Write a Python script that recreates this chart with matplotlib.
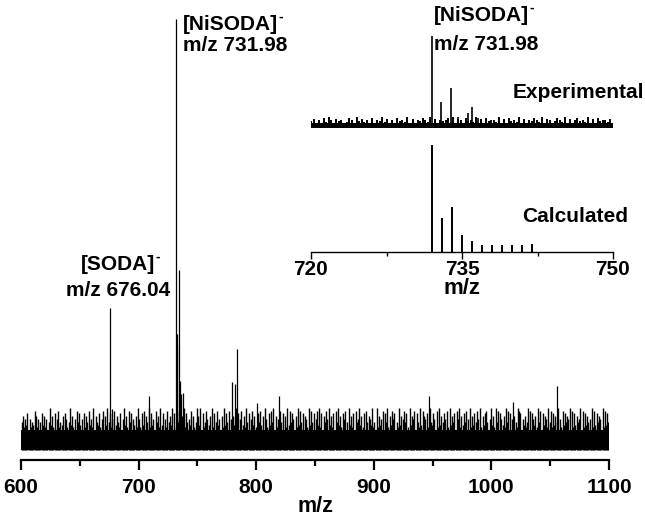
import numpy as np
import matplotlib
matplotlib.use('Agg')
import matplotlib.pyplot as plt

plt.rcParams['font.family'] = ['Liberation Sans', 'DejaVu Sans']
plt.rcParams['font.weight'] = 'bold'

# full scan, 600-1100: noise level, one digit per m/z unit
noise_digits = (
    "46253715243862514736251493627158243617524936251847"
    "35172648352916437258163947251836427159362847153629"
    "52738164927351846293715284639172548361927453816249"
    "63917248536192748351629374815263947158362947158362"
    "27483619527384916253847162938475162938471652938417"
    "58392716485936271849362758149362718459362718465392"
    "41926358174926385714293658471293658174293865172943"
    "75182936475182936471859263748159263748519263784159"
    "36294817536294871536429871536249817536294817365294"
    "82736491528374659182736459182736451928374651928374"
)
noise_h = np.array([3.5 + 0.65 * int(d) for d in noise_digits])
noise_mz = np.linspace(600.5, 1099.5, len(noise_h))

# picked peaks in the full scan (m/z, relative intensity)
peak_mz = [676.04, 677.0, 708.6, 731.98, 732.5, 733.0, 733.98, 735.0, 736.4,
           737.6, 779.2, 782.0, 784.0, 800.4, 819.6, 947.0, 1018.6, 1056.0]
peak_int = [32.7, 9.0, 12.2, 100.0, 26.5, 24.0, 41.5, 15.6, 12.6,
            12.8, 15.4, 14.9, 23.0, 10.6, 12.2, 12.1, 10.7, 14.5]

# zoomed region: measured isotope pattern
exp_digits = (
    "47261839527461385294736182549372618453927164853927"
    "16458392761845392718465392718453927164853927614853"
    "92716845392718465372"
)
exp_noise = np.array([3.5 + 0.7 * int(d) for d in exp_digits])
exp_noise_mz = np.linspace(720.0, 750.0, len(exp_noise))
exp_mz = [731.98, 732.95, 733.95, 734.6, 735.6, 735.96, 736.6]
exp_int = [86.0, 24.6, 37.7, 10.0, 14.0, 19.9, 9.0]
exp_offset = 116

# calculated isotope pattern
calc_mz = [732, 733, 734, 735, 736, 737, 738, 739, 740, 741, 742]
calc_int = [100, 32, 42, 16, 10, 7, 7, 7, 7, 7, 7.5]


def ion_label(axis, x, y, name, mz_text, ha='left', gap=6.8):
    t = axis.text(x, y, name, fontsize=15, fontweight='bold', ha=ha, va='baseline')
    axis.annotate('-', xy=(1, 0.9), xycoords=t, xytext=(0.5, 0), textcoords='offset points',
                  fontsize=10, fontweight='bold', ha='left', va='center')
    axis.text(x, y - gap, mz_text, fontsize=15, fontweight='bold', ha=ha, va='baseline')


fig = plt.figure(figsize=(6.45, 5.19), dpi=100)

ax = fig.add_axes([21 / 645, 1 - 460 / 519, 588 / 645, 450 / 519])
ax.fill_between([600.3, 1099.7], -0.5, 4.2, color='black', lw=0)
ax.vlines(noise_mz, -0.5, noise_h, color='black', lw=1.0)
ax.vlines(peak_mz, 0, peak_int, color='black', lw=0.9)
ax.set_xlim(600, 1100)
ax.set_ylim(-2.8, 102.1)
for s in ['top', 'right', 'left']:
    ax.spines[s].set_visible(False)
ax.spines['bottom'].set_linewidth(1.6)
ax.set_yticks([])
ax.set_xticks(np.arange(600, 1101, 100))
ax.set_xticks(np.arange(650, 1100, 100), minor=True)
ax.tick_params(axis='x', which='major', length=7, width=1.6, labelsize=15, pad=6)
ax.tick_params(axis='x', which='minor', length=4.5, width=1.6)
ax.set_xlabel('m/z', fontsize=15.5, fontweight='bold', labelpad=-0.5)

ion_label(ax, 737.8, 97.5, '[NiSODA]', 'm/z 731.98', gap=4.9)
ion_label(ax, 682.5, 41.5, '[SODA]', 'm/z 676.04', ha='center', gap=6.0)

ins = fig.add_axes([311 / 645, 1 - 252 / 519, 302 / 645, 232 / 519])
ins.fill_between([720.1, 749.9], exp_offset - 0.5, exp_offset + 4.2, color='black', lw=0)
ins.vlines(exp_noise_mz, exp_offset - 0.5, exp_offset + exp_noise, color='black', lw=1.4)
ins.vlines(exp_mz, exp_offset, exp_offset + np.array(exp_int), color='black', lw=1.2)
ins.vlines(calc_mz, 0, calc_int, color='black', lw=1.4)
ins.set_xlim(720, 750)
ins.set_ylim(0, 216.8)
ins.patch.set_visible(False)
for s in ['top', 'right', 'left']:
    ins.spines[s].set_visible(False)
ins.spines['bottom'].set_linewidth(1.0)
ins.set_yticks([])
ins.set_xticks([720, 735, 750])
ins.set_xticks([727.5, 742.5], minor=True)
ins.tick_params(axis='x', which='major', length=5, width=1.0, labelsize=15, pad=1)
ins.tick_params(axis='x', which='minor', length=3, width=1.0)
ins.set_xlabel('m/z', fontsize=16, fontweight='bold', labelpad=-1)

ion_label(ins, 732.2, 216, '[NiSODA]', 'm/z 731.98', gap=27)
ins.text(740.0, 144, 'Experimental', fontsize=15, fontweight='bold', ha='left', va='baseline')
ins.text(741.0, 28, 'Calculated', fontsize=15, fontweight='bold', ha='left', va='baseline')

fig.savefig('out.png', dpi=100)
